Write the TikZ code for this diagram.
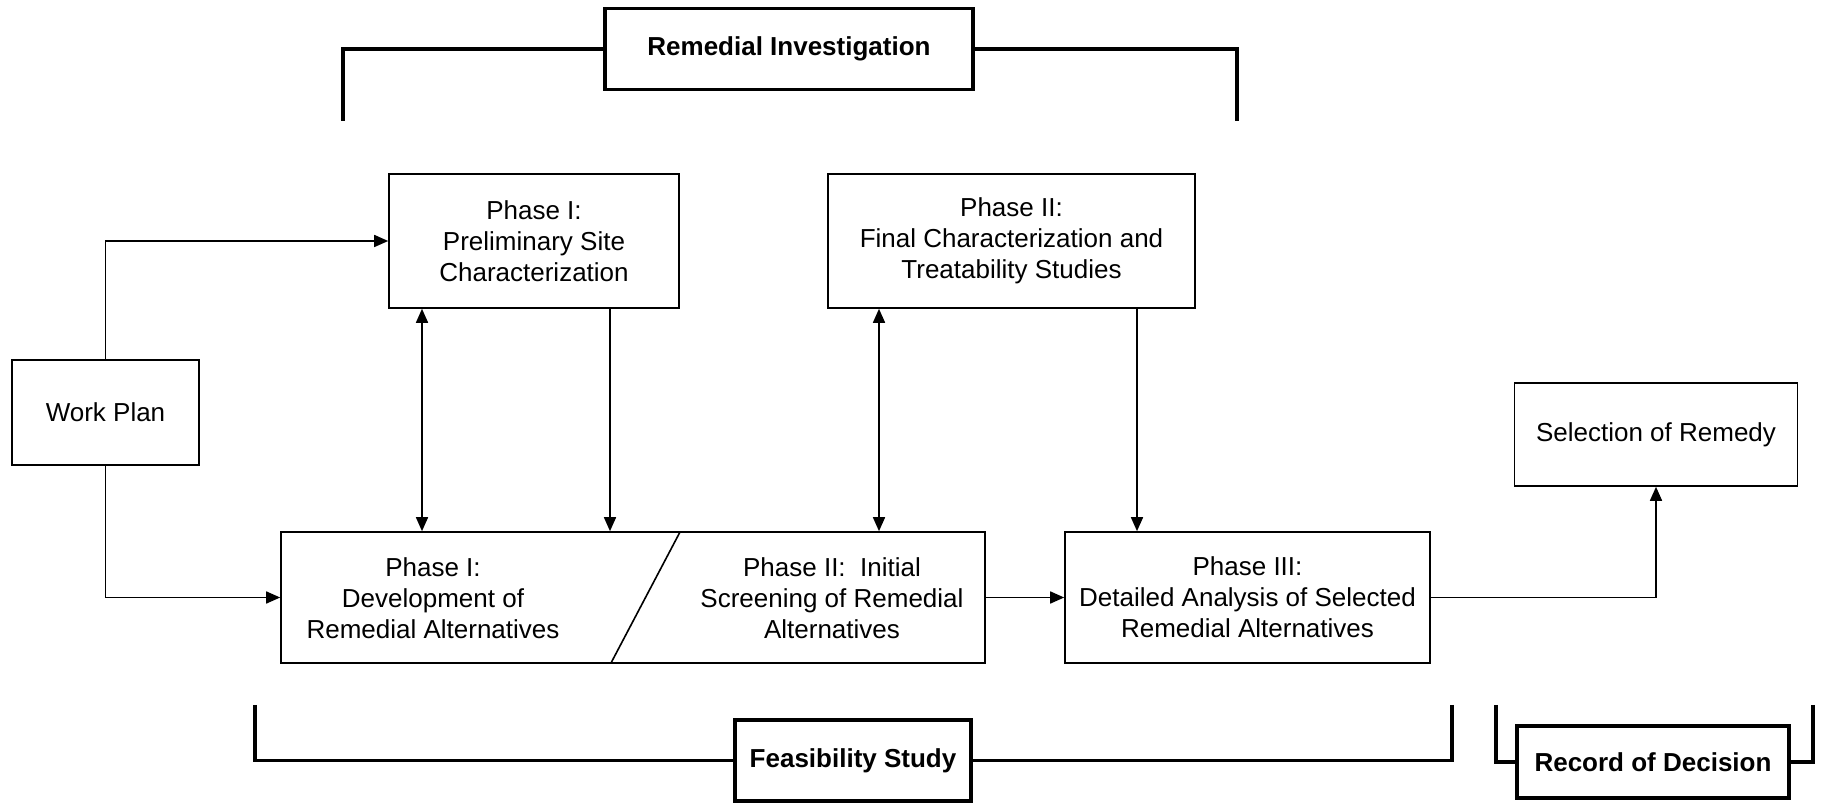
\documentclass[tikz,border=0pt]{standalone}
\usepackage{fontspec}
\setmainfont{Liberation Sans}
\usetikzlibrary{arrows.meta}
\begin{document}
\begin{tikzpicture}[x=0.5pt,y=-0.5pt,
  box/.style={draw,line width=0.8pt,rectangle,inner sep=0pt,align=center,
    font=\fontsize{13}{15.5}\selectfont},
  stage/.style={draw,line width=1.6pt,rectangle,inner sep=0pt,align=center,fill=white,
    font=\fontsize{13}{15.5}\selectfont\bfseries},
  txt/.style={inner sep=0pt,align=center,font=\fontsize{13}{15.5}\selectfont},
  flow/.style={line width=0.8pt,-{Triangle[length=7pt,width=6pt]}},
  both/.style={line width=0.8pt,{Triangle[length=7pt,width=6pt]}-{Triangle[length=7pt,width=6pt]}},
  bracket/.style={line width=1.6pt,line join=miter}
]
\useasboundingbox (0,0) rectangle (1821,806);

% stage labels with their brackets
\node[stage,minimum width=184pt,minimum height=40.5pt] (ri) at (789,49) {Remedial Investigation};
\node[stage,minimum width=118pt,minimum height=40.5pt] (fs) at (853,760.5) {Feasibility Study};
\node[stage,minimum width=136pt,minimum height=36pt] (rod) at (1653,762) {Record of Decision};

\coordinate (rileft) at (343,121);
\coordinate (riright) at (1237,121);
\coordinate (fsleft) at (255,705);
\coordinate (fsright) at (1452,705);
\coordinate (rodleft) at (1496,705);
\coordinate (rodright) at (1813,705);

\draw[bracket] (rileft) |- (ri.west);
\draw[bracket] (riright) |- (ri.east);
\draw[bracket] (fsleft) |- (fs.west);
\draw[bracket] (fsright) |- (fs.east);
\draw[bracket] (rodleft) |- (rod.west);
\draw[bracket] (rodright) |- (rod.east);

% process boxes
\node[box,minimum width=145pt,minimum height=67pt] (psc) at (534,241)
  {Phase I:\\Preliminary Site\\Characterization};
\node[box,minimum width=183.5pt,minimum height=67pt] (fc) at (1011.5,241)
  {Phase II:\\Final Characterization and\\Treatability Studies};
\node[box,minimum width=93.5pt,minimum height=52.5pt] (wp) at (105.5,412.5) {Work Plan};
\node[box,minimum width=141.5pt,minimum height=51.5pt] (sel) at (1656,434.5) {Selection of Remedy};
\node[box,minimum width=352pt,minimum height=65.5pt] (alts) at (633,597.5) {};
\node[box,minimum width=182.5pt,minimum height=65.5pt] (p3) at (1247.5,597.5)
  {Phase III:\\Detailed Analysis of Selected\\Remedial Alternatives};

% split of the alternatives box
\coordinate (slashtop) at (680,532);
\coordinate (slashbot) at (611,663);
\draw[line width=0.8pt] (slashtop) -- (slashbot);
\node[txt] (devtext) at (433,598) {Phase I:\\Development of\\Remedial Alternatives};
\node[txt] (scrtext) at (832,598) {Phase II:\ \ Initial\\Screening of Remedial\\Alternatives};

% connectors
\coordinate (xa) at (422,0);
\coordinate (xb) at (610,0);
\coordinate (xc) at (879,0);
\coordinate (xd) at (1137,0);

\draw[flow] (wp.north) |- (psc.west);
\draw[flow] (wp.south) |- (alts.west);
\draw[both] (psc.south -| xa) -- (alts.north -| xa);
\draw[flow] (psc.south -| xb) -- (alts.north -| xb);
\draw[both] (fc.south -| xc) -- (alts.north -| xc);
\draw[flow] (fc.south -| xd) -- (p3.north -| xd);
\draw[flow] (alts.east) -- (p3.west);
\draw[flow] (p3.east) -| (sel.south);
\end{tikzpicture}
\end{document}
